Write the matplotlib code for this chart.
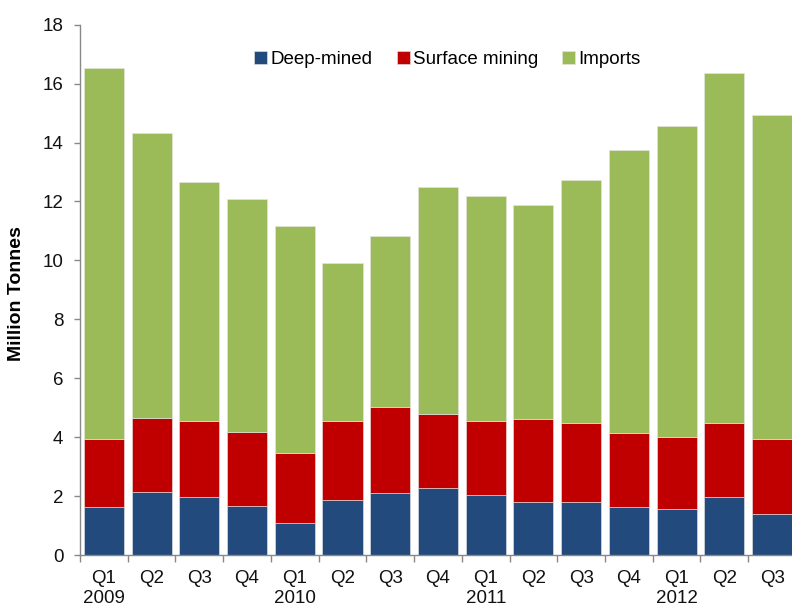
"""
Production de charbon par trimestre : mines profondes, surface, importations
"""

import numpy as np
import matplotlib
matplotlib.use('Agg')
import matplotlib.pyplot as plt
from matplotlib.ticker import MultipleLocator, FixedLocator

plt.rcParams['font.family'] = ['Liberation Sans', 'DejaVu Sans']

quarters = ['Q1', 'Q2', 'Q3', 'Q4'] * 3 + ['Q1', 'Q2', 'Q3']
years = {0: '2009', 4: '2010', 8: '2011', 12: '2012'}

deep_mined = [1.62, 2.15, 1.98, 1.67, 1.10, 1.87, 2.10, 2.28, 2.05, 1.81, 1.81, 1.62, 1.56, 1.98, 1.39]
# haut de la partie rouge (cumul deep + surface)
surface_top = [3.95, 4.66, 4.55, 4.19, 3.46, 4.55, 5.02, 4.79, 4.55, 4.62, 4.48, 4.13, 4.01, 4.48, 3.95]
totals = [16.54, 14.33, 12.67, 12.07, 11.18, 9.92, 10.82, 12.48, 12.19, 11.89, 12.72, 13.74, 14.57, 16.36, 14.93]

surface_mining = [t - d for t, d in zip(surface_top, deep_mined)]
imports = [t - s for t, s in zip(totals, surface_top)]

labels = []
for i, q in enumerate(quarters):
    if i in years:
        labels.append(f"{q}\n{years[i]}")
    else:
        labels.append(q)

x = np.arange(len(quarters))

fig = plt.figure(figsize=(7.92, 6.05), dpi=100, facecolor='white')
ax = fig.add_axes([0.101, 0.0826, 0.904, 0.8766])

w = 0.84
ec = '#e8e8e8'
ax.bar(x, deep_mined, width=w, color='#234a7c', edgecolor=ec, linewidth=0.4, label='Deep-mined')
ax.bar(x, surface_mining, width=w, bottom=deep_mined, color='#c00000', edgecolor=ec, linewidth=0.4,
       label='Surface mining')
ax.bar(x, imports, width=w, bottom=surface_top, color='#9bbb59', edgecolor=ec, linewidth=0.4,
       label='Imports')

ax.set_ylim(0, 18)
ax.set_xlim(-0.5, len(quarters) - 0.5)
ax.yaxis.set_major_locator(MultipleLocator(2))

# traits aux limites des catégories, libellés au centre
ax.xaxis.set_major_locator(FixedLocator(np.arange(-0.5, len(quarters), 1)))
ax.xaxis.set_minor_locator(FixedLocator(x))
ax.set_xticklabels([])
ax.set_xticklabels(labels, minor=True)
ax.tick_params(axis='x', which='major', length=5, color='#888888', width=1)
ax.tick_params(axis='x', which='minor', length=0, pad=11, labelsize=13.5, colors='#111111')
ax.tick_params(axis='y', length=4, color='#888888', width=1, pad=8, labelsize=13.5, labelcolor='#111111')

for s in ['top', 'right']:
    ax.spines[s].set_visible(False)
for s in ['left', 'bottom']:
    ax.spines[s].set_color('#888888')
    ax.spines[s].set_linewidth(1)

ax.set_ylabel('Million Tonnes', fontsize=14, fontweight='bold')
ax.yaxis.set_label_coords(-0.077, 0.4925)

ax.legend(loc='center', bbox_to_anchor=(0.513, 0.935), ncol=3, frameon=False, fontsize=13.5,
          handlelength=0.7, handleheight=0.7, handletextpad=0.15, columnspacing=1.3)

fig.savefig('out.png', dpi=100)
